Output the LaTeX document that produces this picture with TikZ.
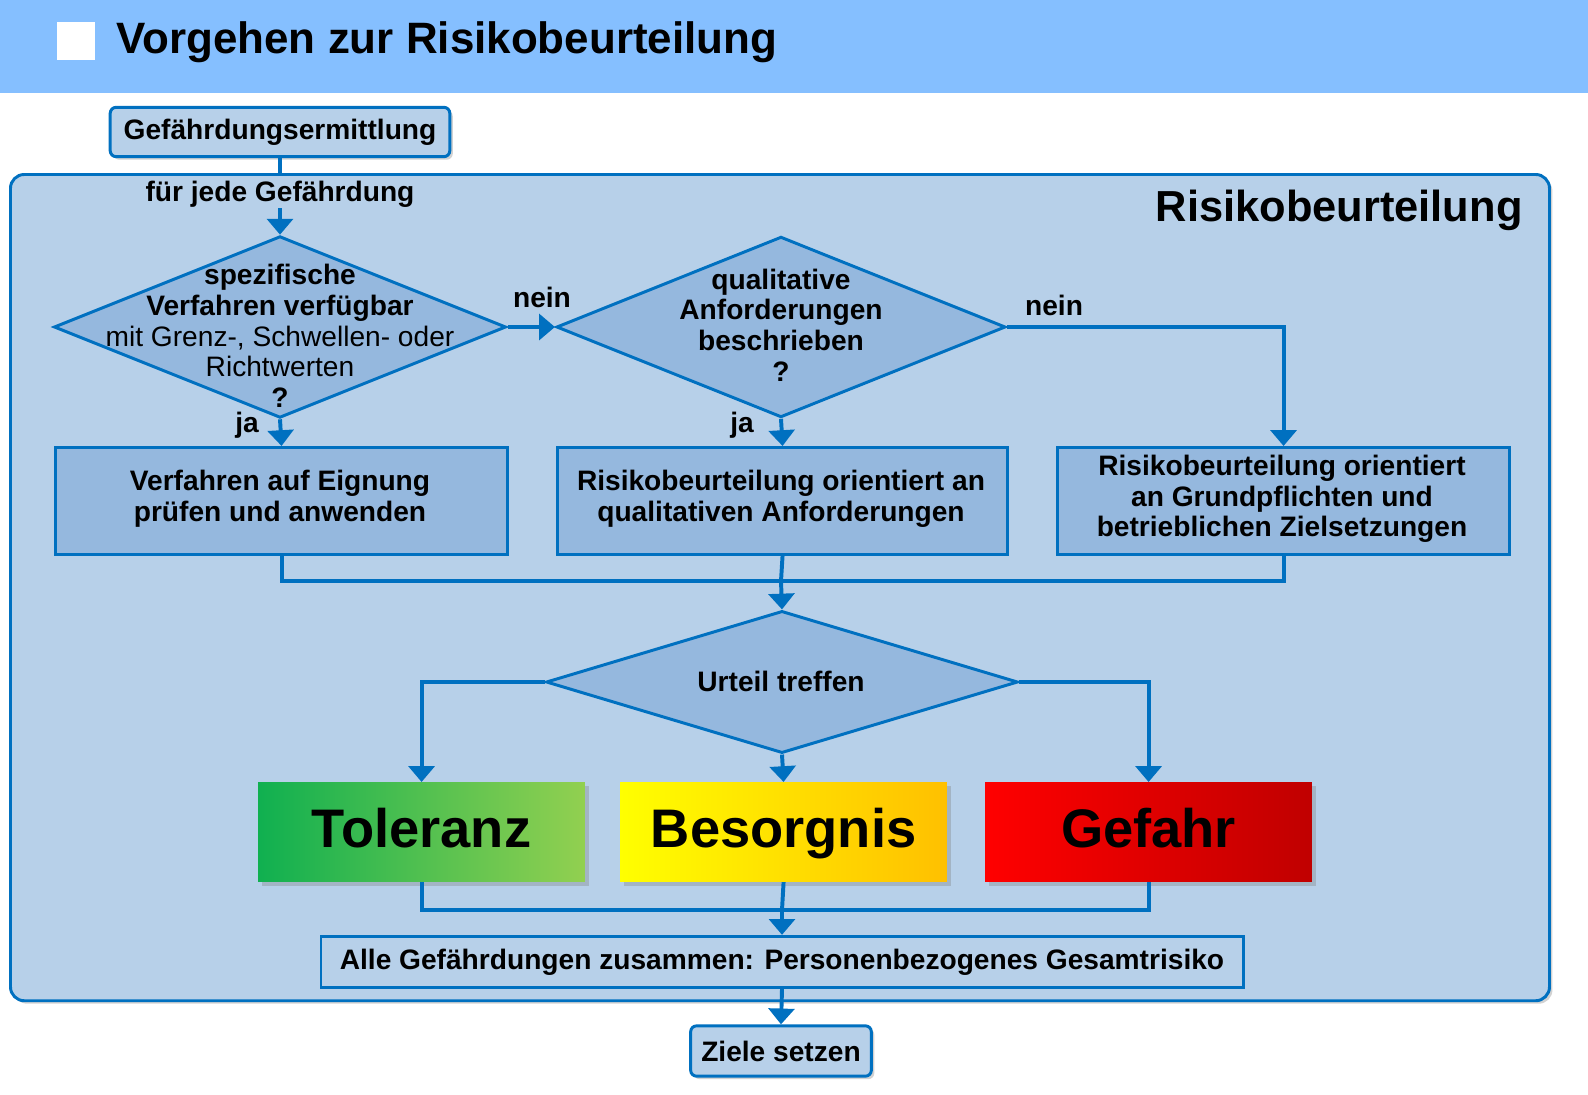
\documentclass[tikz,border=0pt]{standalone}
\usepackage{fontspec}
\setmainfont{Liberation Sans}
\usetikzlibrary{shapes.geometric,arrows.meta,shadows}
\definecolor{bar}{HTML}{85BFFF}
\definecolor{frame}{HTML}{B7D0E9}
\definecolor{dk}{HTML}{0070C0}
\definecolor{fillb}{HTML}{95B8DE}
\definecolor{g1}{HTML}{10B050}
\definecolor{g2}{HTML}{92D050}
\definecolor{o2}{HTML}{FFC000}
\definecolor{r2}{HTML}{C00000}
\begin{document}
\begin{tikzpicture}[x=1.013pt,y=-1.013pt,
  ln/.style={draw=dk,line width=4pt},
  arr/.style={ln,-{Triangle[width=26pt,length=16pt]}},
  bx/.style={draw=dk,line width=3pt,fill=fillb,inner sep=0pt,anchor=north west},
  rbx/.style={draw=dk,line width=3pt,fill=frame,rounded corners=6pt,inner sep=0pt,drop shadow={shadow xshift=3pt,shadow yshift=-3pt,opacity=.35},font=\fontsize{28.5}{31}\selectfont\bfseries},
  dia/.style={diamond,draw=dk,line width=3pt,fill=fillb,inner sep=0pt},
  tx/.style={font=\fontsize{28.5}{31}\selectfont\bfseries,align=center},
  big/.style={minimum width=331pt,minimum height=101pt,inner sep=0pt,text height=42pt,text depth=10pt,anchor=north west,font=\fontsize{55}{60}\selectfont\bfseries,drop shadow={shadow xshift=4pt,shadow yshift=-4pt,opacity=.35}}]
\useasboundingbox (0,0) rectangle (1588,1094);
\fill[white] (0,0) rectangle (1588,1094);
\fill[bar] (0,0) rectangle (1588,93);
\fill[white] (57,22) rectangle (95,60);
\node[anchor=west,font=\fontsize{44.5}{48}\selectfont\bfseries] (title) at (113,42) {Vorgehen zur Risikobeurteilung};
\node[draw=dk,line width=3pt,fill=frame,rounded corners=14pt,minimum width=1559pt,minimum height=837pt,anchor=north west,drop shadow={shadow xshift=3pt,shadow yshift=-3pt,opacity=.35}] (frm) at (9,173) {};
\node[anchor=east,font=\fontsize{44}{48}\selectfont\bfseries] (rb) at (1526,210) {Risikobeurteilung};
\node[rbx,minimum width=344pt,minimum height=50pt] (ge) at (280,132) {Gefährdungsermittlung};
\node[tx] (fj) at (280,194) {für jede Gefährdung};
% diamonds
\node[dia,minimum width=458pt,minimum height=184pt] (d1) at (280,327) {};
\node[tx,font=\fontsize{28.5}{31}\selectfont] at (280,336) {\textbf{spezifische}\\\textbf{Verfahren verfügbar}\\mit Grenz-, Schwellen- oder\\Richtwerten\\\textbf{?}};
\node[dia,minimum width=455pt,minimum height=183pt] (d2) at (781,327) {};
\node[tx] at (781,325) {qualitative\\Anforderungen\\beschrieben\\?};
\node[dia,minimum width=478pt,minimum height=144pt] (d3) at (782,682) {};
\node[tx] at (781,681) {Urteil treffen};
% boxes
\node[bx,minimum width=458pt,minimum height=108pt] (b1) at (54,446) {};
\node[tx] at (280,499) {Verfahren auf Eignung\\prüfen und anwenden};
\node[bx,minimum width=456pt,minimum height=108pt] (b2) at (556,446) {};
\node[tx] at (781,499) {Risikobeurteilung orientiert an\\qualitativen Anforderungen};
\node[bx,minimum width=458pt,minimum height=108pt] (b3) at (1056,446) {};
\node[tx] at (1282,499) {Risikobeurteilung orientiert\\an Grundpflichten und\\betrieblichen Zielsetzungen};
% labels
\node[tx] (n1) at (542,297) {nein};
\node[tx] (n2) at (1054,305) {nein};
\node[tx] (j1) at (247,425) {ja};
\node[tx] (j2) at (742,425) {ja};
% result boxes
\node[big,left color=g1,right color=g2] (tol) at (258,782) {Toleranz};
\node[big,left color=yellow,right color=o2] (bes) at (620,782) {Besorgnis};
\node[big,left color=red,right color=r2] (gef) at (985,782) {Gefahr};
\node[draw=dk,line width=3pt,fill=frame,minimum width=934pt,minimum height=52pt,inner sep=0pt,font=\fontsize{28.5}{31}\selectfont\bfseries] (alle) at (782,962) {Alle Gefährdungen zusammen: Personenbezogenes Gesamtrisiko};
\node[rbx,minimum width=183pt,minimum height=51pt] (ziel) at (781,1051) {Ziele setzen};
% connectors
\draw[ln] (ge.south) -- (280,176);
\draw[arr] (280,208) -- (d1.north);
\draw[arr] (d1.south) -- (b1.north);
\draw[arr] (d1.east) -- (d2.west);
\draw[arr] (d2.south) -- (b2.north);
\draw[arr] (d2.east) -| (b3.north);
\coordinate (m) at (781,581);
\draw[ln] (b1.south) |- (b3.south |- m) -- (b3.south);
\draw[ln] (b2.south) -- (m);
\draw[arr] (m) -- (d3.north);
\draw[arr] (d3.west) -| (tol.north);
\draw[arr] (d3.east) -| (gef.north);
\draw[arr] (d3.south) -- (bes.north);
\coordinate (m2) at (782,910);
\draw[ln] (tol.south) |- (gef.south |- m2) -- (gef.south);
\draw[ln] (bes.south) -- (m2);
\draw[arr] (m2) -- (alle.north);
\draw[arr] (alle.south) -- (ziel.north);
\end{tikzpicture}
\end{document}
